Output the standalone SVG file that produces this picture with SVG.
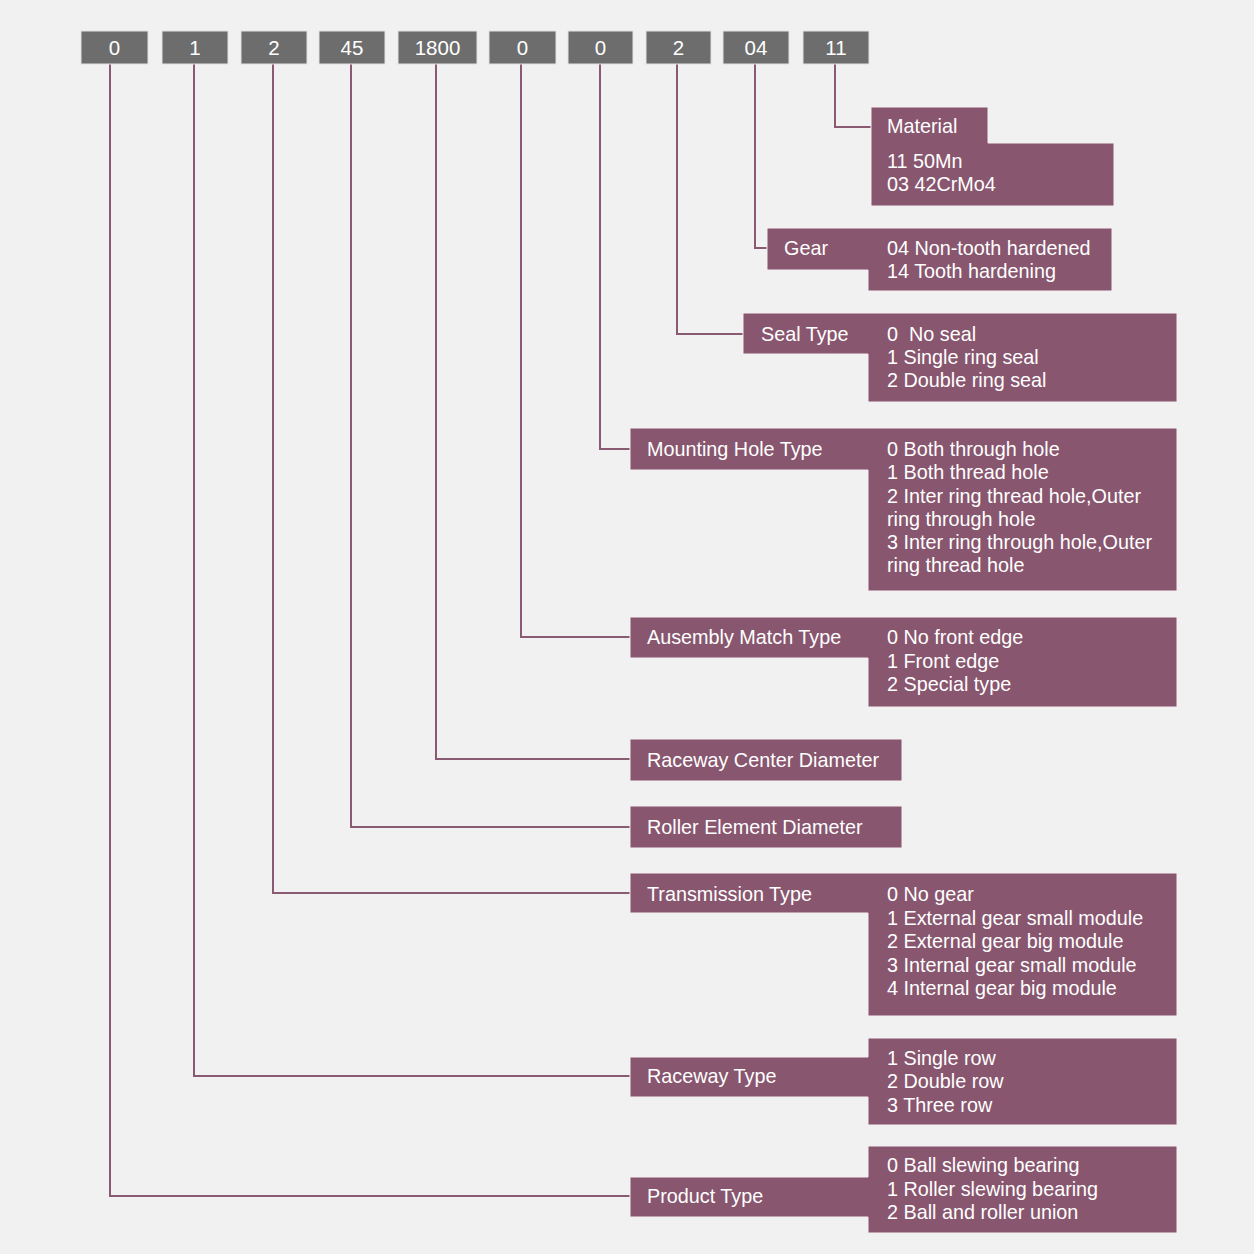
<svg xmlns="http://www.w3.org/2000/svg" width="1254" height="1254" viewBox="0 0 1254 1254">
<style>
.bg{fill:#f1f1f1}
.code{fill:#6d6d6d;stroke:#e2e2e2;stroke-width:1}
.codet{fill:#ffffff;font-family:"Liberation Sans",Arial,sans-serif;font-size:20.5px;text-anchor:middle}
.box{fill:#88566e;stroke:#f4eef1;stroke-width:1}
.t{fill:#ffffff;font-family:"Liberation Sans",Arial,sans-serif;font-size:19.8px}
.con{fill:none;stroke:#8a5a72;stroke-width:2}
</style>
<rect class="bg" x="0" y="0" width="1254" height="1254"/>
<g id="connectors">
<polyline class="con" points="835,64 835,127 871,127"/>
<polyline class="con" points="755,64 755,248 767,248"/>
<polyline class="con" points="677,64 677,334 743,334"/>
<polyline class="con" points="600,64 600,449 630,449"/>
<polyline class="con" points="521,64 521,637 630,637"/>
<polyline class="con" points="436,64 436,759 630,759"/>
<polyline class="con" points="351,64 351,827 630,827"/>
<polyline class="con" points="273,64 273,893 630,893"/>
<polyline class="con" points="194,64 194,1076 630,1076"/>
<polyline class="con" points="110,64 110,1196 630,1196"/>
</g>
<g id="code-0a"><rect class="code" x="81" y="31" width="67" height="33"/><text class="codet" x="114.5" y="55">0</text></g>
<g id="code-1"><rect class="code" x="162" y="31" width="66" height="33"/><text class="codet" x="195" y="55">1</text></g>
<g id="code-2a"><rect class="code" x="241" y="31" width="66" height="33"/><text class="codet" x="274" y="55">2</text></g>
<g id="code-45"><rect class="code" x="319" y="31" width="66" height="33"/><text class="codet" x="352" y="55">45</text></g>
<g id="code-1800"><rect class="code" x="398" y="31" width="79" height="33"/><text class="codet" x="437.5" y="55">1800</text></g>
<g id="code-0b"><rect class="code" x="489" y="31" width="67" height="33"/><text class="codet" x="522.5" y="55">0</text></g>
<g id="code-0c"><rect class="code" x="568" y="31" width="65" height="33"/><text class="codet" x="600.5" y="55">0</text></g>
<g id="code-2b"><rect class="code" x="646" y="31" width="65" height="33"/><text class="codet" x="678.5" y="55">2</text></g>
<g id="code-04"><rect class="code" x="723" y="31" width="66" height="33"/><text class="codet" x="756" y="55">04</text></g>
<g id="code-11"><rect class="code" x="803" y="31" width="66" height="33"/><text class="codet" x="836" y="55">11</text></g>

<g id="material">
<polygon class="box" points="871,107 988,107 988,143 1114,143 1114,206 871,206"/>
<text class="t" x="887" y="133">Material</text>
<text class="t" x="887" y="168">11 50Mn</text>
<text class="t" x="887" y="191">03 42CrMo4</text>
</g>
<g id="gear">
<polygon class="box" points="767,228 1112,228 1112,291 868,291 868,270 767,270"/>
<text class="t" x="784" y="255">Gear</text>
<text class="t" x="887" y="255">04 Non-tooth hardened</text>
<text class="t" x="887" y="278">14 Tooth hardening</text>
</g>
<g id="seal">
<polygon class="box" points="743,313 1177,313 1177,402 868,402 868,354 743,354"/>
<text class="t" x="761" y="341">Seal Type</text>
<text class="t" x="887" y="341" xml:space="preserve">0  No seal</text>
<text class="t" x="887" y="364">1 Single ring seal</text>
<text class="t" x="887" y="387">2 Double ring seal</text>
</g>
<g id="mounting">
<polygon class="box" points="630,428 1177,428 1177,591 868,591 868,470 630,470"/>
<text class="t" x="647" y="456">Mounting Hole Type</text>
<text class="t" x="887" y="456">0 Both through hole</text>
<text class="t" x="887" y="479">1 Both thread hole</text>
<text class="t" x="887" y="503">2 Inter ring thread hole,Outer</text>
<text class="t" x="887" y="526">ring through hole</text>
<text class="t" x="887" y="549">3 Inter ring through hole,Outer</text>
<text class="t" x="887" y="572">ring thread hole</text>
</g>
<g id="assembly">
<polygon class="box" points="630,617 1177,617 1177,707 868,707 868,658 630,658"/>
<text class="t" x="647" y="644">Ausembly Match Type</text>
<text class="t" x="887" y="644">0 No front edge</text>
<text class="t" x="887" y="668">1 Front edge</text>
<text class="t" x="887" y="691">2 Special type</text>
</g>
<g id="raceway-center">
<rect class="box" x="630" y="739" width="272" height="42"/>
<text class="t" x="647" y="767">Raceway Center Diameter</text>
</g>
<g id="roller">
<rect class="box" x="630" y="806" width="272" height="42"/>
<text class="t" x="647" y="834">Roller Element Diameter</text>
</g>
<g id="transmission">
<polygon class="box" points="630,873 1177,873 1177,1016 868,1016 868,913 630,913"/>
<text class="t" x="647" y="901">Transmission Type</text>
<text class="t" x="887" y="901">0 No gear</text>
<text class="t" x="887" y="925">1 External gear small module</text>
<text class="t" x="887" y="948">2 External gear big module</text>
<text class="t" x="887" y="972">3 Internal gear small module</text>
<text class="t" x="887" y="995">4 Internal gear big module</text>
</g>
<g id="raceway-type">
<polygon class="box" points="868,1038 1177,1038 1177,1125 868,1125 868,1097 630,1097 630,1057 868,1057"/>
<text class="t" x="647" y="1083">Raceway Type</text>
<text class="t" x="887" y="1065">1 Single row</text>
<text class="t" x="887" y="1088">2 Double row</text>
<text class="t" x="887" y="1112">3 Three row</text>
</g>
<g id="product-type">
<polygon class="box" points="868,1146 1177,1146 1177,1233 868,1233 868,1217 630,1217 630,1177 868,1177"/>
<text class="t" x="647" y="1203">Product Type</text>
<text class="t" x="887" y="1172">0 Ball slewing bearing</text>
<text class="t" x="887" y="1196">1 Roller slewing bearing</text>
<text class="t" x="887" y="1219">2 Ball and roller union</text>
</g>
</svg>
